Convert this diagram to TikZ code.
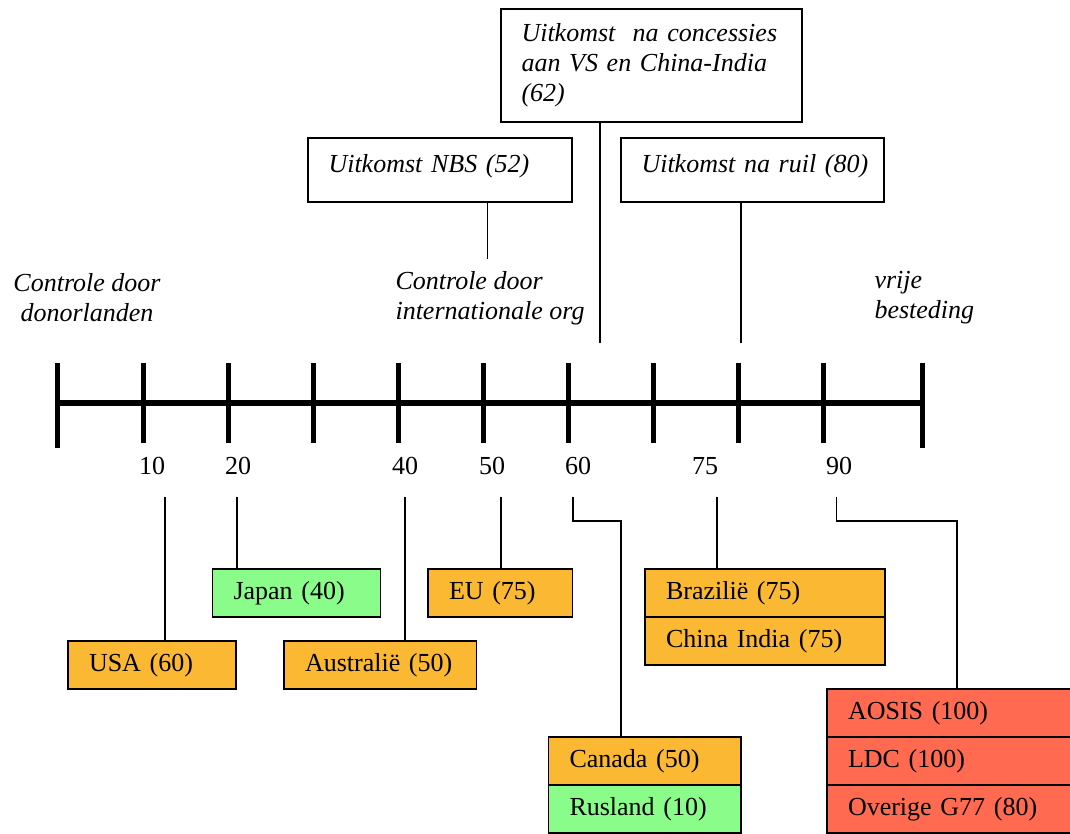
\documentclass[tikz,border=0pt]{standalone}
\usepackage{fontspec}
\setmainfont{Liberation Serif}
\usetikzlibrary{positioning, calc}
\definecolor{oranje}{RGB}{251,184,50}
\definecolor{groen}{RGB}{138,252,138}
\definecolor{rood}{RGB}{255,106,80}
\tikzset{cbox/.style={draw, line width=1.5pt, outer sep=0pt, inner xsep=21pt, inner ysep=0pt, minimum height=48pt, anchor=north west, align=left},
         tbox/.style={draw, line width=1.3pt, outer sep=0pt, inner xsep=20.5pt, anchor=north west, align=left, font=\fontsize{26}{30}\selectfont\itshape},
         lbl/.style={font=\fontsize{26}{30}\selectfont\itshape, align=left, anchor=west},
         tickmark/.style={line width=5pt},
         con/.style={line width=1.3pt}}

\begin{document}
\begin{tikzpicture}[x=1pt, y=-1pt, font=\fontsize{26}{30}\selectfont]
                        \useasboundingbox (0,0) rectangle (1070,833);

                        \draw[line width=5.5pt] (57.5,403) -- (922,403);
                        \draw[tickmark] (57.5,363) -- (57.5,448) (922,363) -- (922,448);
                        \foreach \x in {143,228,313,398,483,568,653,738,823}
                            \draw[tickmark] (\x,363) -- (\x,443);
                        \foreach \x/\t in {152/10,238/20,405/40,492/50,578/60,705/75,839/90}
                            \node (lab\t) at (\x,466) {\t};

                        \node[tbox, text width=260pt, minimum height=113pt] (conc) at (501,9) {Uitkomst\ \ na concessies\\aan VS en China-India\\(62)};
                        \node[tbox, text width=223pt, minimum height=64pt, text depth=14pt] (nbs) at (308,138) {Uitkomst NBS (52)};
                        \node[tbox, text width=222pt, minimum height=64pt, text depth=14pt] (ruil) at (621,138) {\mbox{Uitkomst na ruil (80)}};
                        \coordinate (nbsend) at (487.5,259);
                        \coordinate (concend) at (600,343);
                        \coordinate (ruilend) at (741,343);
                        \draw[con]
                        (nbs.south -| nbsend) -- (nbsend)
                        (conc.south -| concend) -- (concend)
                        (ruil.south -| ruilend) -- (ruilend);

                        \node[lbl, align=center, anchor=center] (donor) at (87,298) {Controle door\\donorlanden};
                        \node[lbl] (intorg) at (392,298) {Controle door\\internationale org};
                        \node[lbl] (vrij) at (871,298) {vrije\\besteding};

                        \node[cbox, fill=oranje, text width=126pt] (usa) at (68,641) {USA (60)};
                        \node[cbox, fill=groen, text width=126pt] (japan) at (212.5,569) {Japan (40)};
                        \node[cbox, fill=oranje, text width=150.5pt] (austr) at (284,641) {Australië (50)};
                        \node[cbox, fill=oranje, text width=102.5pt] (eu) at (428,569) {EU (75)};
                        \node[cbox, fill=oranje, text width=198pt] (braz) at (645,569) {Brazilië (75)};
                        \node[cbox, fill=oranje, text width=198pt, below=0pt of braz] (china) {China India (75)};
                        \node[cbox, fill=oranje, text width=150.5pt] (canada) at (548.5,737) {Canada (50)};
                        \node[cbox, fill=groen, text width=150.5pt, below=0pt of canada] (rus) {Rusland (10)};
                        \node[cbox, fill=rood, text width=221pt] (aosis) at (827,689) {AOSIS (100)};
                        \node[cbox, fill=rood, text width=221pt, below=0pt of aosis] (ldc) {LDC (100)};
                        \node[cbox, fill=rood, text width=221pt, below=0pt of ldc] (g77) {Overige G77 (80)};

                        \coordinate (c10) at (165,497);
                        \coordinate (c20) at (237,497);
                        \coordinate (c40) at (405,497);
                        \coordinate (c50) at (501,497);
                        \coordinate (c60) at (573,497);
                        \coordinate (c75) at (717,497);
                        \coordinate (c90) at (836.5,497);
                        \coordinate (k60) at (621,521);
                        \coordinate (k90) at (957,521);
                        \draw[con]
                        (c10) -- (c10 |- usa.north)
                        (c20) -- (c20 |- japan.north)
                        (c40) -- (c40 |- austr.north)
                        (c50) -- (c50 |- eu.north)
                        (c75) -- (c75 |- braz.north)
                        (c60) |- (k60) -- (k60 |- canada.north)
                        (c90) |- (k90) -- (k90 |- aosis.north);
                    \end{tikzpicture}
\end{document}
